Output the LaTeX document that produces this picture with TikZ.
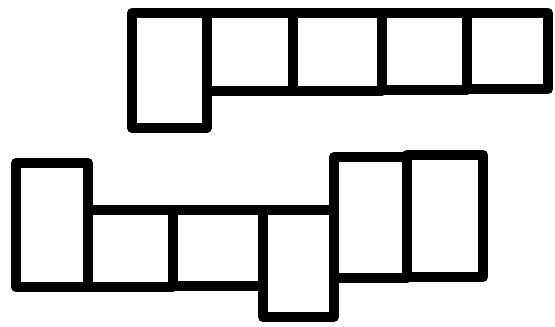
\documentclass[tikz,border=0pt]{standalone}
\usetikzlibrary{calc}

\begin{document}
\begin{tikzpicture}[
    x=1pt, y=-1pt,
    % Estilos de caras
    face/.style={draw=black, line width=10pt, line join=round, line cap=round}
]
    \useasboundingbox (0,0) rectangle (555,327);

    % =========================================================================
    % 1. Desarrollo superior (cara alta + 4 cuadrados)
    % =========================================================================
    \coordinate (top a) at (132, 13);
    \coordinate (top b) at (207, 128);
    \draw[face] (top a) rectangle (top b);

    \foreach \xa/\xb/\yb in {207/293/91, 293/382/91, 382/467/90, 467/548/89} {
        \draw[face] (\xa, 13) rectangle (\xb, \yb);
    }

    % =========================================================================
    % 2. Desarrollo inferior
    % =========================================================================
    \draw[face] (16, 163) rectangle (88, 287);   % cara alta izquierda
    \draw[face] (88, 210) rectangle (173, 287);  % cuadrado
    \draw[face] (173, 210) rectangle (263, 286); % cuadrado
    \draw[face] (263, 210) rectangle (334, 317); % cara colgante
    \draw[face] (334, 157) rectangle (407, 278); % cara alta
    \draw[face] (407, 155) rectangle (483, 277); % cara alta derecha
\end{tikzpicture}
\end{document}
